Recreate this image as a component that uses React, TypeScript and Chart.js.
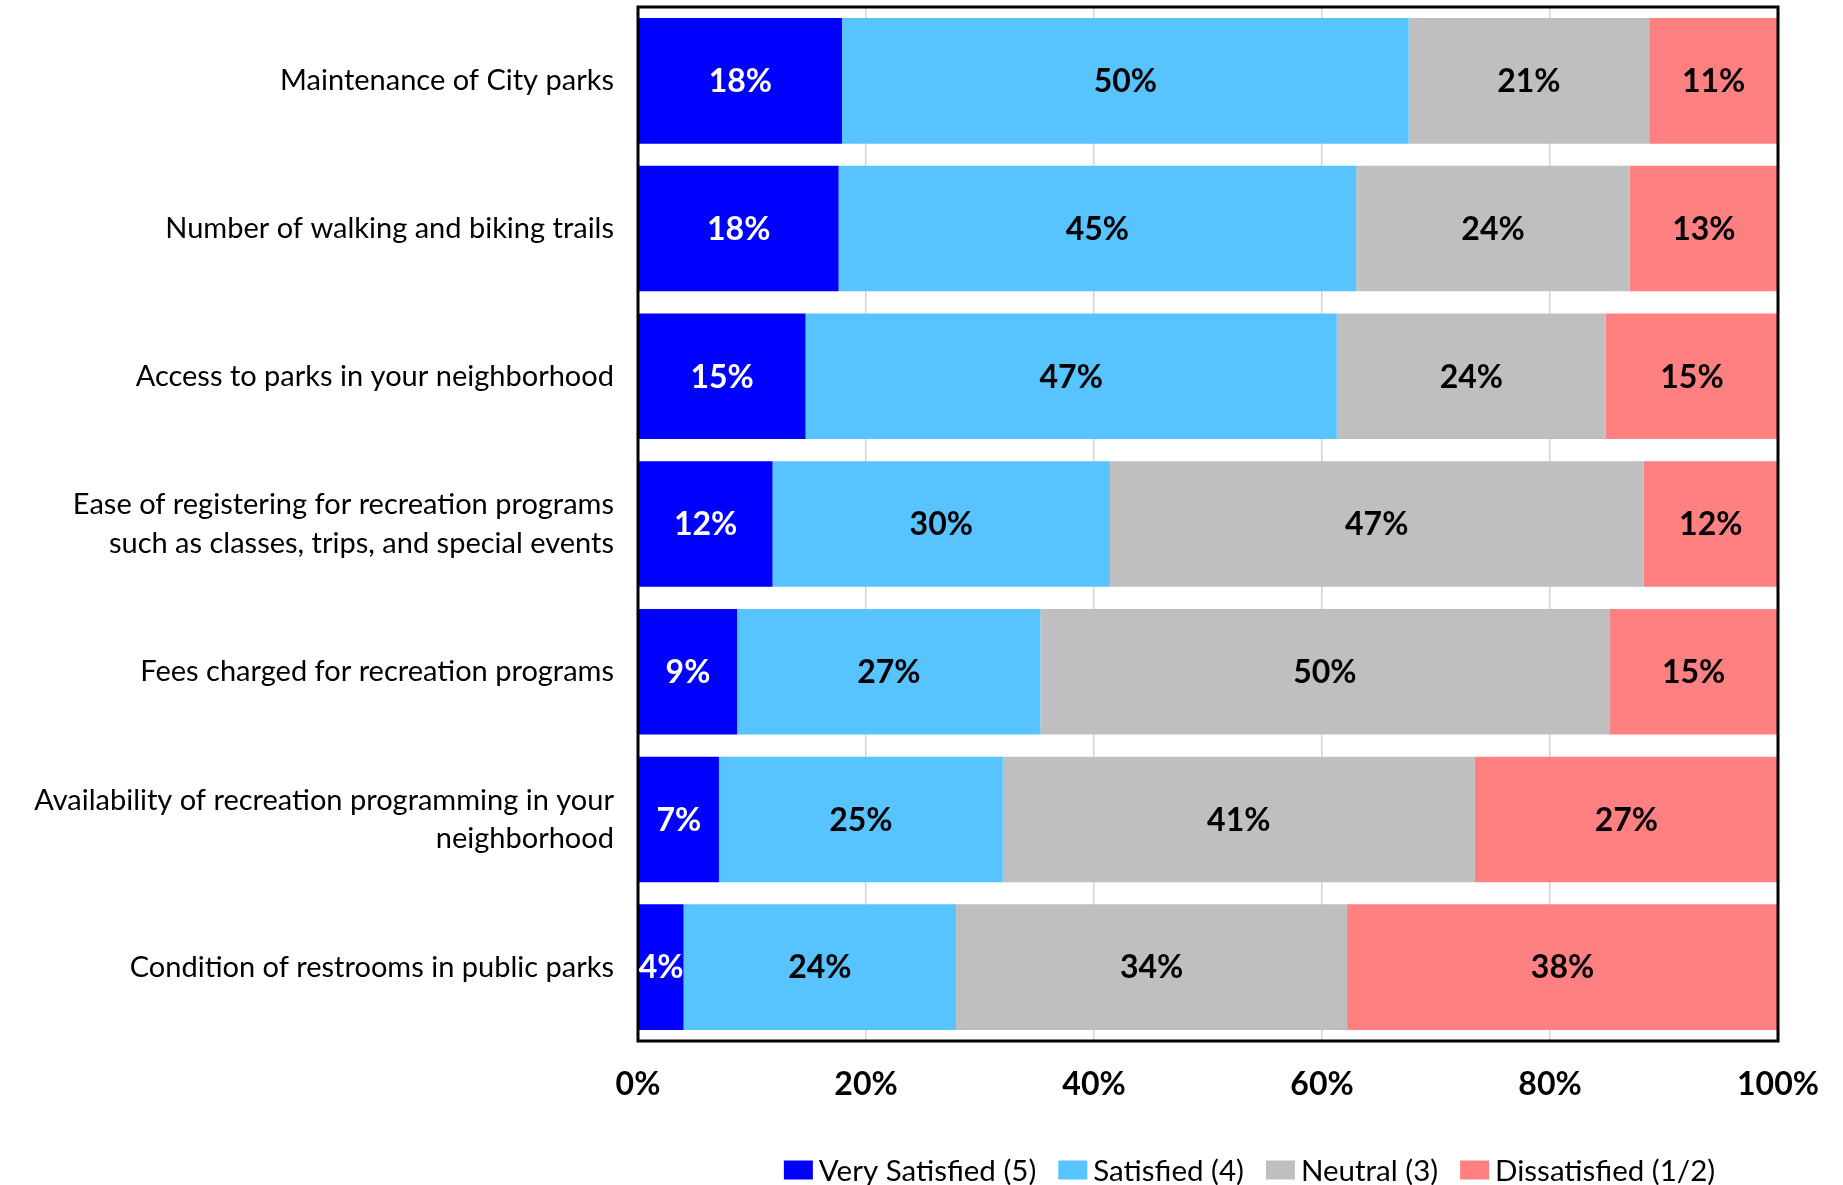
import React, { useEffect, useRef } from "react";
import { Chart, registerables } from "chart.js";

Chart.register(...registerables);

const categories: (string | string[])[] = [
  "Maintenance of City parks",
  "Number of walking and biking trails",
  "Access to parks in your neighborhood",
  ["Ease of registering for recreation programs", "such as classes, trips, and special events"],
  "Fees charged for recreation programs",
  ["Availability of recreation programming in your", "neighborhood"],
  "Condition of restrooms in public parks",
];

const seriesNames = ["Very Satisfied (5)", "Satisfied (4)", "Neutral (3)", "Dissatisfied (1/2)"];
const verySatisfied = [17.9, 17.6, 14.7, 11.8, 8.7, 7.1, 4.0];
const satisfied = [49.7, 45.4, 46.6, 29.6, 26.6, 24.9, 23.9];
const neutral = [21.1, 24.0, 23.6, 46.8, 49.9, 41.4, 34.3];
const dissatisfied = [11.3, 13.0, 15.1, 11.8, 14.8, 26.6, 37.8];
const xTickLabels = ["0%", "20%", "40%", "60%", "80%", "100%"];

const colors = ["#0000FF", "#57C4FF", "#BFBFBF", "#FF8080"];
const labelColors = ["#FFFFFF", "#000000", "#000000", "#000000"];
const FONT = "Lato";

const framePlugin = {
  id: "frame",
  afterDatasetsDraw(chart: any) {
    const { ctx, chartArea } = chart;
    ctx.save();
    ctx.strokeStyle = "#000";
    ctx.lineWidth = 3;
    ctx.strokeRect(chartArea.left, chartArea.top, chartArea.right - chartArea.left, chartArea.bottom - chartArea.top);
    ctx.restore();
  },
};

const dataLabelPlugin = {
  id: "dataLabels",
  afterDatasetsDraw(chart: any) {
    const { ctx } = chart;
    ctx.save();
    ctx.font = `bold 32px ${FONT}`;
    ctx.textAlign = "center";
    ctx.textBaseline = "middle";
    chart.data.datasets.forEach((ds: any, di: number) => {
      const meta = chart.getDatasetMeta(di);
      meta.data.forEach((el: any, i: number) => {
        const v = ds.data[i];
        const cx = (el.x + el.base) / 2;
        ctx.fillStyle = labelColors[di];
        ctx.fillText(`${Math.round(v)}%`, cx, el.y + 1);
      });
    });
    ctx.restore();
  },
};

const legendPlugin = {
  id: "customLegend",
  afterDraw(chart: any) {
    const { ctx } = chart;
    ctx.save();
    ctx.font = `29.5px ${FONT}`;
    ctx.textBaseline = "middle";
    ctx.textAlign = "left";
    const boxW = 29, boxH = 19, gapBT = 6, gapItem = 22;
    const widths = seriesNames.map((n) => ctx.measureText(n).width);
    const total = widths.reduce((a, w) => a + boxW + gapBT + w, 0) + gapItem * (seriesNames.length - 1);
    let x = 1249.5 - total / 2;
    const cy = 1170;
    seriesNames.forEach((n, i) => {
      ctx.fillStyle = colors[i];
      ctx.fillRect(x, cy - boxH / 2, boxW, boxH);
      x += boxW + gapBT;
      ctx.fillStyle = "#000";
      ctx.fillText(n, x, cy + 1);
      x += widths[i] + gapItem;
    });
    ctx.restore();
  },
};

export default function App() {
  const ref = useRef<HTMLCanvasElement | null>(null);
  useEffect(() => {
    if (!ref.current) return;
    const data = [verySatisfied, satisfied, neutral, dissatisfied];
    const chart = new Chart(ref.current, {
      type: "bar",
      data: {
        labels: categories as any,
        datasets: data.map((d, i) => ({
          label: seriesNames[i],
          data: d,
          backgroundColor: colors[i],
          borderWidth: 0,
          barPercentage: 0.85,
          categoryPercentage: 1,
        })),
      },
      options: {
        indexAxis: "y",
        animation: false,
        responsive: true,
        maintainAspectRatio: false,
        layout: { padding: { top: 7, right: 65, bottom: 64, left: 0 } },
        plugins: { legend: { display: false }, tooltip: { enabled: false } },
        scales: {
          x: {
            stacked: true,
            min: 0,
            max: 100,
            ticks: {
              stepSize: 20,
              padding: 24,
              color: "#000",
              font: { family: FONT, size: 32, weight: "bold" },
              callback: (v: any) => xTickLabels[Math.round(Number(v) / 20)],
            },
            grid: { color: "#D4D4D4", lineWidth: 1.5, drawTicks: false },
            border: { display: false },
            afterFit: (s: any) => { s.height = 80; },
          },
          y: {
            stacked: true,
            ticks: {
              padding: 24,
              color: "#000",
              font: { family: FONT, size: 29, lineHeight: 1.33 },
            },
            grid: { display: false, drawTicks: false },
            border: { display: false },
            afterFit: (s: any) => {
              s.width = 638;
              s.paddingTop = 0;
              s.paddingBottom = 0;
            },
          },
        },
      },
      plugins: [framePlugin, dataLabelPlugin, legendPlugin],
    });
    return () => chart.destroy();
  }, []);
  return (
    <div style={{ position: "fixed", left: 0, top: 0, width: 1843, height: 1185, background: "#fff" }}>
      <canvas ref={ref} />
    </div>
  );
}
